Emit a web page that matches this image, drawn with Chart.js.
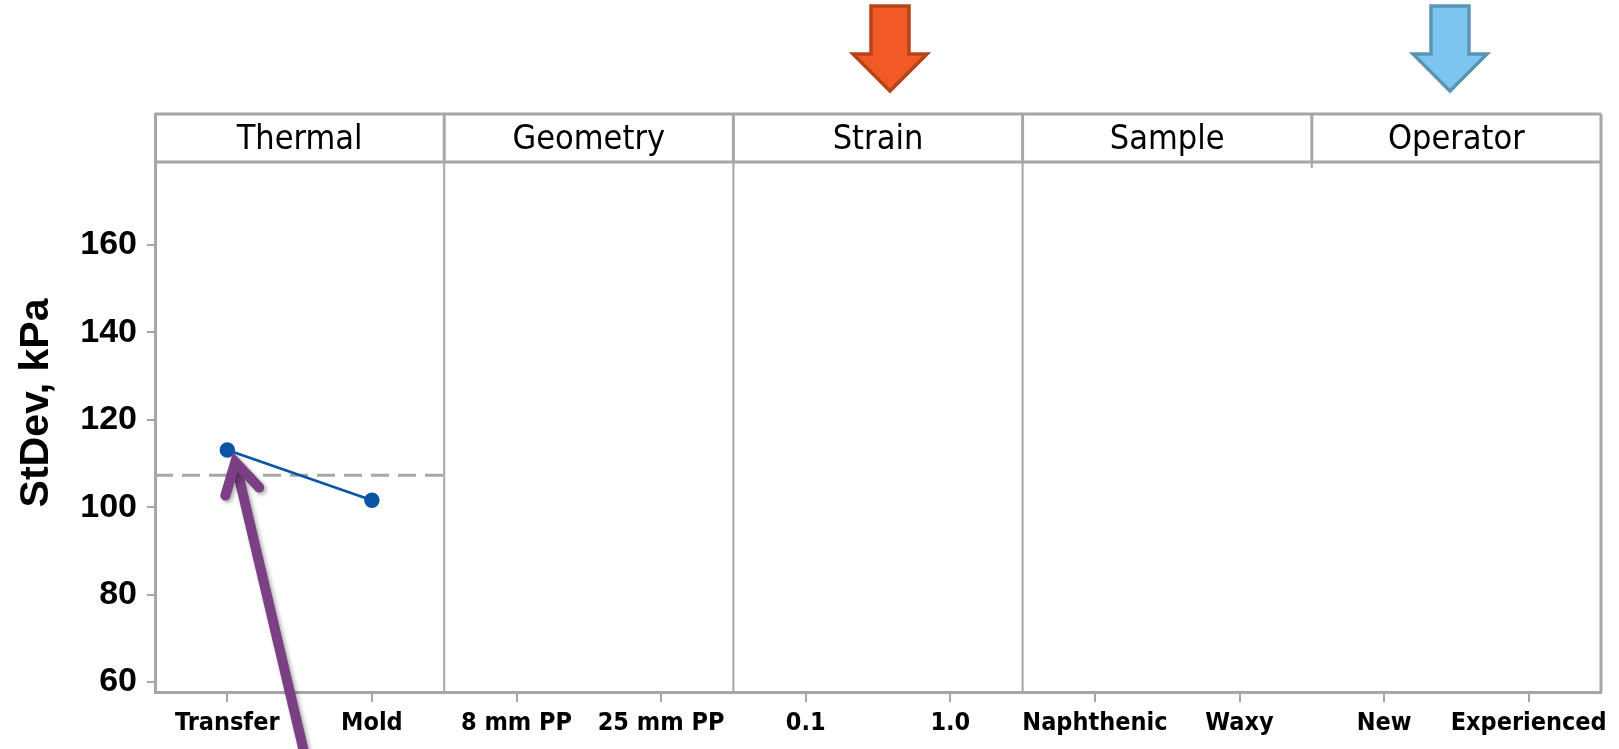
<!DOCTYPE html>
<html>
<head>
<meta charset="utf-8">
<script src="https://cdn.jsdelivr.net/npm/chart.js@4.4.1/dist/chart.umd.min.js"></script>
<style>
  html, body { margin: 0; padding: 0; background: #fff; }
</style>
</head>
<body>
<canvas id="myChart" width="1619" height="749"></canvas>
<script>
// levels of each factor, two per panel
const levels = ['Transfer', 'Mold', '8 mm PP', '25 mm PP', '0.1', '1.0', 'Naphthenic', 'Waxy', 'New', 'Experienced'];
const factors = ['Thermal', 'Geometry', 'Strain', 'Sample', 'Operator'];
const thermalMeans = [113.1, 101.6];
const grandMean = 107.3;
const yTicks = [60, 80, 100, 120, 140, 160];

const gray = '#a6a6a6';
const narrow = '"Liberation Sans Narrow", "DejaVu Sans Condensed", sans-serif';
const headerH = 48;

const framePlugin = {
    id: 'frame',
    beforeDatasetsDraw(chart) {
        const {ctx, chartArea: a, scales: {x}} = chart;
        ctx.save();
        ctx.strokeStyle = gray;
        // top + header bottom + right edge
        ctx.lineWidth = 3;
        ctx.beginPath();
        ctx.moveTo(a.left, a.top); ctx.lineTo(a.right, a.top);
        ctx.moveTo(a.left, a.top + headerH); ctx.lineTo(a.right, a.top + headerH);
        ctx.moveTo(a.right, a.top); ctx.lineTo(a.right, a.bottom);
        ctx.stroke();
        // panel dividers
        for (let i = 1; i < factors.length; i++) {
            const px = x.getPixelForValue(i * 2 - 0.5);
            ctx.lineWidth = 3;
            ctx.beginPath();
            ctx.moveTo(px, a.top); ctx.lineTo(px, a.top + headerH);
            ctx.stroke();
            ctx.lineWidth = 2;
            ctx.beginPath();
            // divider before Operator only shows as a stub
            const end = i === 4 ? a.top + headerH + 6 : a.bottom;
            ctx.moveTo(px, a.top + headerH); ctx.lineTo(px, end);
            ctx.stroke();
        }
        // header labels
        ctx.fillStyle = '#000';
        ctx.font = '34px ' + narrow;
        ctx.textAlign = 'center';
        ctx.textBaseline = 'middle';
        factors.forEach((f, i) => {
            ctx.fillText(f, x.getPixelForValue(i * 2 + 0.5), a.top + headerH / 2 + 2);
        });
        ctx.restore();
    },
    afterDraw(chart) {
        const {ctx} = chart;
        ctx.save();
        // down arrows above Strain and Operator
        const downArrow = (cx, fill, stroke) => {
            ctx.beginPath();
            ctx.moveTo(cx - 19, 6); ctx.lineTo(cx + 19, 6); ctx.lineTo(cx + 19, 54);
            ctx.lineTo(cx + 37, 54); ctx.lineTo(cx, 91); ctx.lineTo(cx - 37, 54);
            ctx.lineTo(cx - 19, 54); ctx.closePath();
            ctx.fillStyle = fill; ctx.fill();
            ctx.lineWidth = 3.5; ctx.strokeStyle = stroke; ctx.stroke();
        };
        downArrow(890, '#f15a24', '#b5441b');
        downArrow(1450, '#7cc5ee', '#5b95b6');

        // purple arrow pointing at the Transfer mean
        const pt = chart.getDatasetMeta(0).data[0];
        const tx = pt.x + 8, ty = pt.y + 12;
        const ang = Math.atan2(287, 68);
        ctx.shadowColor = 'rgba(0,0,0,0.35)';
        ctx.shadowBlur = 4;
        ctx.shadowOffsetX = 2;
        ctx.shadowOffsetY = 2;
        ctx.strokeStyle = '#7b3f84';
        ctx.lineWidth = 10;
        ctx.lineCap = 'butt';
        ctx.beginPath();
        ctx.moveTo(tx + Math.cos(ang) * 4, ty + Math.sin(ang) * 4);
        ctx.lineTo(tx + Math.cos(ang) * 400, ty + Math.sin(ang) * 400);
        ctx.stroke();
        ctx.lineCap = 'round';
        ctx.lineJoin = 'miter';
        const w = 0.52, len = 35;
        ctx.beginPath();
        ctx.moveTo(tx + Math.cos(ang - w) * len, ty + Math.sin(ang - w) * len);
        ctx.lineTo(tx, ty);
        ctx.lineTo(tx + Math.cos(ang + w) * len, ty + Math.sin(ang + w) * len);
        ctx.stroke();
        ctx.restore();
    }
};

new Chart(document.getElementById('myChart'), {
    type: 'line',
    data: {
        datasets: [{
            data: thermalMeans.map((v, i) => ({x: i, y: v})),
            borderColor: '#0b54a6',
            backgroundColor: '#0b54a6',
            borderWidth: 2.5,
            pointRadius: 6.5,
            pointHoverRadius: 6.5
        }, {
            data: [{x: -0.5, y: grandMean}, {x: 1.5, y: grandMean}],
            borderColor: gray,
            borderWidth: 3,
            borderDash: [18, 9],
            pointRadius: 0
        }]
    },
    options: {
        responsive: false,
        animation: false,
        layout: {padding: {top: 114, right: 18, left: 0, bottom: 0}},
        plugins: {legend: {display: false}, tooltip: {enabled: false}},
        scales: {
            x: {
                type: 'linear',
                min: -0.5,
                max: 9.5,
                afterBuildTicks: scale => { scale.ticks = levels.map((_, i) => ({value: i})); },
                afterFit: scale => { scale.height = 57; },
                ticks: {
                    callback: v => levels[v],
                    color: '#000',
                    font: {family: narrow, size: 25, weight: 'bold'},
                    padding: 6,
                    maxRotation: 0,
                    autoSkip: false
                },
                grid: {drawOnChartArea: false, color: gray, lineWidth: 2, tickLength: 10},
                border: {color: gray, width: 3}
            },
            y: {
                min: 57.7,
                max: 190,
                afterBuildTicks: scale => { scale.ticks = yTicks.map(v => ({value: v})); },
                afterFit: scale => { scale.width = 155; },
                ticks: {
                    color: '#000',
                    font: {family: '"Liberation Sans", Arial, sans-serif', size: 34, weight: 'bold'},
                    padding: 10
                },
                grid: {drawOnChartArea: false, color: gray, lineWidth: 2, tickLength: 8},
                border: {color: gray, width: 3},
                title: {
                    display: true,
                    text: 'StDev, kPa',
                    color: '#000',
                    font: {family: '"Liberation Sans", Arial, sans-serif', size: 41, weight: 'bold'},
                    padding: {top: 12, bottom: 0}
                }
            }
        }
    },
    plugins: [framePlugin]
});
</script>
</body>
</html>
